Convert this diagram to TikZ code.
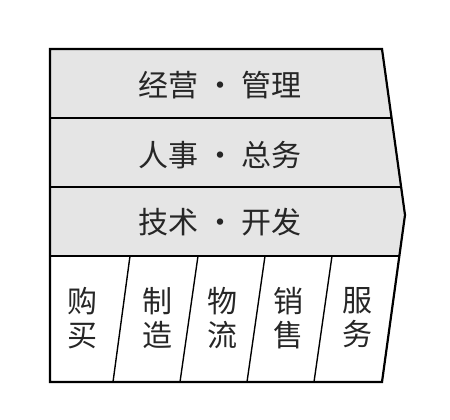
\documentclass[tikz,border=0pt]{standalone}
\usepackage{fontspec}
\newfontfamily\cjk{Noto Sans CJK SC}
\usetikzlibrary{positioning}
\tikzset{font=\cjk}
\tikzset{bandtext/.style={font=\cjk\fontsize{30}{30}\selectfont, text=black!85},
  coltext/.style={font=\cjk\fontsize{30}{34}\selectfont, text=black!85, align=center}}

\begin{document}
\begin{tikzpicture}[x=1pt,y=-1pt]
  \useasboundingbox (0,0) rectangle (450,420);
  \fill[gray!20] (50,49)--(382,49)--(405,215)--(399.4,256)--(50,256)--cycle;
  \draw[line width=1.2pt] (50,118)--(391.6,118);
  \draw[line width=1.2pt] (50,187)--(401.1,187);
  \draw[line width=1.8pt] (50,256)--(399.4,256);
  \foreach \t/\b in {130/113,198/180,265/247,332/314}
    \draw[line width=1.4pt] (\t,256)--(\b,382);
  \draw[line width=2.2pt, line join=miter] (50,49)--(382,49)--(405,215)--(382,382)--(50,382)--cycle;
  \node[bandtext] (mgmt) at (220,85) {经营 · 管理};
  \node[bandtext] (hr) at (220,155) {人事 · 总务};
  \node[bandtext] (tech) at (220,222) {技术 · 开发};
  \node[coltext] (buy) at (82,318) {购\\买};
  \node[coltext] (make) at (157,318) {制\\造};
  \node[coltext] (logi) at (222,318) {物\\流};
  \node[coltext] (sell) at (288,318) {销\\售};
  \node[coltext] (serv) at (357,318) {服\\务};
\end{tikzpicture}
\end{document}
